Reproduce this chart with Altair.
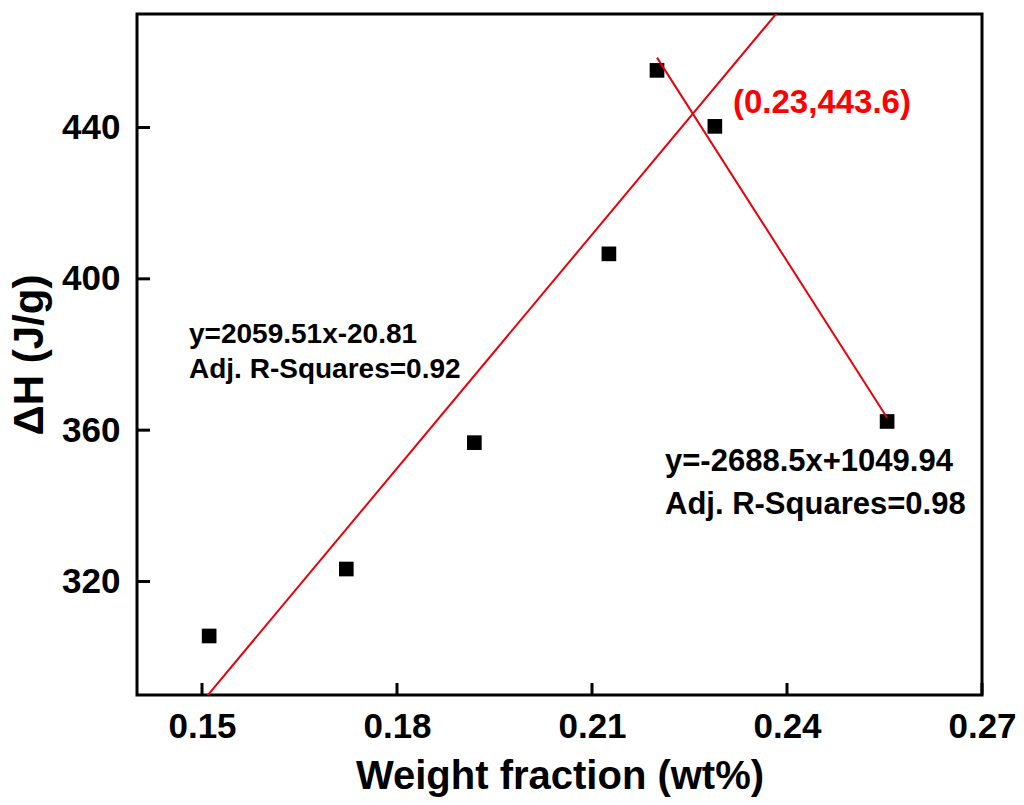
import altair as alt
import pandas as pd

# data
wt_fraction = [0.1511, 0.1722, 0.1919, 0.2126, 0.2200, 0.2289, 0.2554]
delta_h = [305.6, 323.3, 356.7, 406.6, 455.1, 440.3, 362.3]

# fitted equations shown on the chart
fit1_slope, fit1_intercept = 2059.51, -20.81
fit2_slope, fit2_intercept = -2688.5, 1049.94

x_ticks = [0.15, 0.18, 0.21, 0.24, 0.27]
y_ticks = [320, 360, 400, 440]
x_domain = [0.14, 0.27]
y_domain = [290, 470]

FONT = "Liberation Sans"
RED_LINE = "#e8000b"
RED_TEXT = "#ff0000"

W, H = 845, 681

pts = pd.DataFrame({"x": wt_fraction, "y": delta_h})

fit1_x = x_domain
fit1 = pd.DataFrame({"x": fit1_x, "y": [fit1_slope * v + fit1_intercept for v in fit1_x]})
fit2_x = [wt_fraction[4], wt_fraction[6]]
fit2 = pd.DataFrame({"x": fit2_x, "y": [fit2_slope * v + fit2_intercept for v in fit2_x]})

xs = alt.Scale(domain=x_domain, nice=False, zero=False)
ys = alt.Scale(domain=y_domain, nice=False, zero=False)

points = alt.Chart(pts).mark_point(shape="square", filled=True, color="black", size=215, opacity=1).encode(
    x=alt.X("x:Q", scale=xs, title="Weight fraction (wt%)",
            axis=alt.Axis(values=x_ticks, format=".2f")),
    y=alt.Y("y:Q", scale=ys, title="ΔH (J/g)",
            axis=alt.Axis(values=y_ticks, format="d")),
)

line1 = alt.Chart(fit1).mark_line(color=RED_LINE, strokeWidth=2, clip=True).encode(
    x=alt.X("x:Q", scale=xs), y=alt.Y("y:Q", scale=ys))
line2 = alt.Chart(fit2).mark_line(color=RED_LINE, strokeWidth=2, clip=True).encode(
    x=alt.X("x:Q", scale=xs), y=alt.Y("y:Q", scale=ys))

xt = alt.Chart(pd.DataFrame({"x": x_ticks})).mark_rule(color="black", strokeWidth=3).encode(
    x=alt.X("x:Q", scale=xs), y=alt.value(H), y2=alt.value(H - 12))
yt = alt.Chart(pd.DataFrame({"y": y_ticks})).mark_rule(color="black", strokeWidth=3).encode(
    y=alt.Y("y:Q", scale=ys), x=alt.value(0), x2=alt.value(13))

one = pd.DataFrame({"a": [0]})


def label(txt, px, py, size, color="black"):
    return alt.Chart(one).mark_text(
        text=txt, align="left", baseline="alphabetic", font=FONT,
        fontWeight="bold", fontSize=size, color=color,
    ).encode(x=alt.value(px), y=alt.value(py))


texts = [
    label("y=2059.51x-20.81", 52, 329, 28),
    label("Adj. R-Squares=0.92", 52, 364, 28),
    label("y=-2688.5x+1049.94", 528, 457, 31),
    label("Adj. R-Squares=0.98", 528, 500, 31),
    label("(0.23,443.6)", 596, 99, 33, RED_TEXT),
]

chart = alt.layer(points, line1, line2, xt, yt, *texts).properties(
    width=W, height=H,
    autosize=alt.AutoSizeParams(type="none"),
    padding={"left": 137, "top": 14, "right": 42, "bottom": 110},
    background="white",
).configure_view(
    stroke="black", strokeWidth=3
).configure_axis(
    grid=False, ticks=False, domain=False,
    labelFont=FONT, labelFontSize=35, labelFontWeight="bold", labelColor="black",
    titleFont=FONT, titleFontWeight="bold", titleColor="black",
    labelFlush=False, labelOverlap=False,
).configure_axisX(
    labelPadding=14, titlePadding=12, titleFontSize=40,
).configure_axisY(
    labelPadding=17, titlePadding=10, titleFontSize=42,
)

chart.save("out.html", embed_options={"renderer": "svg", "actions": False})
